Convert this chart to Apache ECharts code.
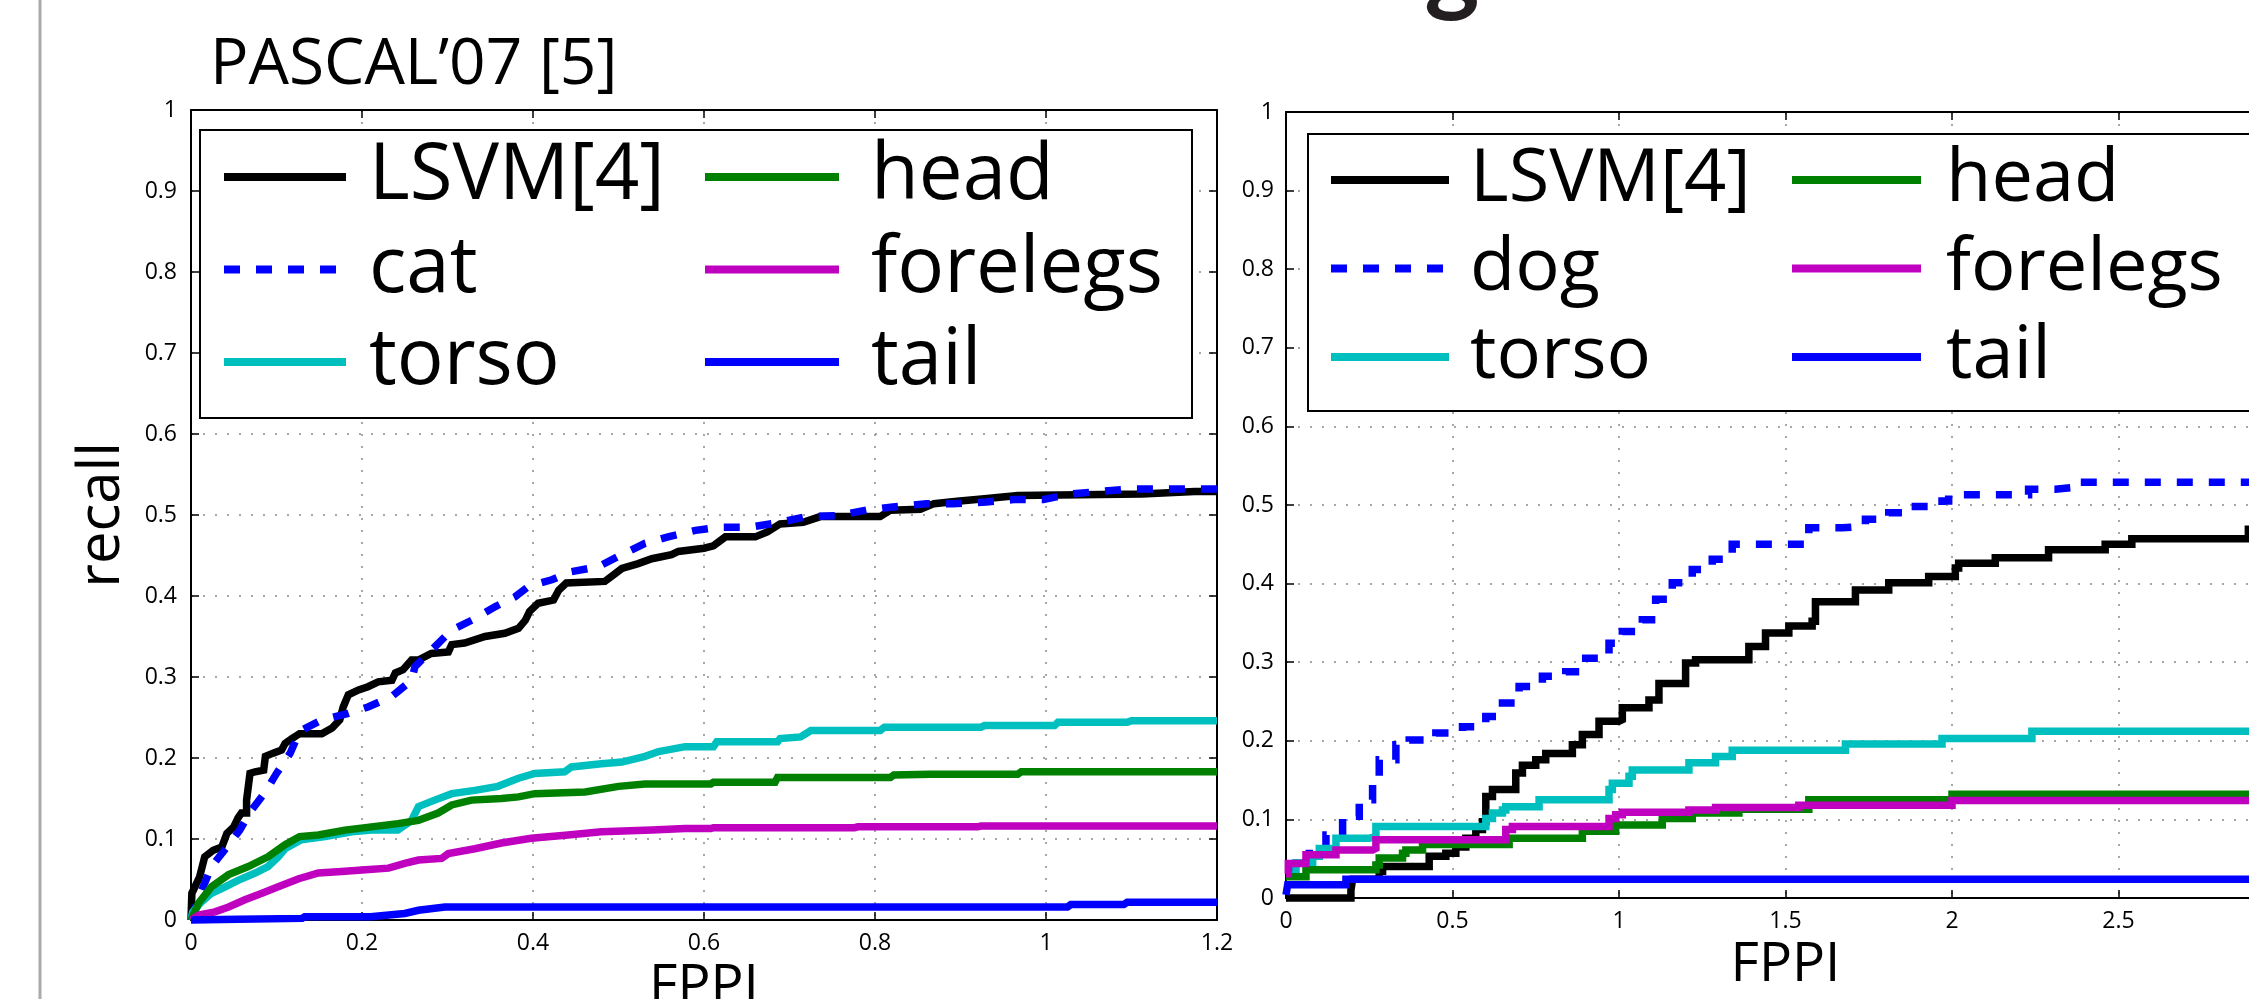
<!DOCTYPE html>
<html><head><meta charset="utf-8">
<script src="https://cdn.jsdelivr.net/npm/echarts@6/dist/echarts.min.js"></script>
<style>html,body{margin:0;padding:0;background:#fff}#c{width:2249px;height:999px}</style>
</head><body><div id="c"></div>
<script>
// ---------- data ----------
const titleText = 'PASCAL’07 [5]';
const xName = 'FPPI';
const yName = 'recall';
const legendLeftCol1 = ['LSVM[4]', 'cat', 'torso'];
const legendRightCol1 = ['LSVM[4]', 'dog', 'torso'];
const legendCol2 = ['head', 'forelegs', 'tail'];

// left panel (cat), polyline vertices [FPPI, recall]
const catLSVM = [[0,0],[0.001,0.033],[0.01,0.053],[0.016,0.078],[0.026,0.086],[0.036,0.09],[0.042,0.107],[0.05,0.115],[0.055,0.126],[0.059,0.132],[0.065,0.132],[0.065,0.148],[0.069,0.181],[0.075,0.183],[0.085,0.185],[0.087,0.202],[0.096,0.206],[0.106,0.21],[0.11,0.218],[0.118,0.224],[0.127,0.23],[0.153,0.23],[0.165,0.237],[0.174,0.247],[0.178,0.263],[0.184,0.278],[0.196,0.284],[0.207,0.288],[0.219,0.294],[0.235,0.296],[0.239,0.305],[0.248,0.309],[0.258,0.321],[0.266,0.321],[0.281,0.329],[0.301,0.331],[0.305,0.34],[0.32,0.342],[0.344,0.35],[0.367,0.354],[0.383,0.36],[0.391,0.37],[0.396,0.381],[0.406,0.391],[0.424,0.395],[0.43,0.407],[0.439,0.416],[0.484,0.418],[0.494,0.426],[0.504,0.434],[0.523,0.44],[0.539,0.446],[0.562,0.451],[0.57,0.455],[0.6,0.459],[0.611,0.462],[0.625,0.473],[0.66,0.473],[0.674,0.479],[0.689,0.489],[0.716,0.491],[0.736,0.498],[0.806,0.498],[0.818,0.506],[0.853,0.507],[0.869,0.514],[0.896,0.517],[0.928,0.52],[0.967,0.524],[1.112,0.526],[1.174,0.529],[1.2,0.529]];
const catWhole = [[0,0],[0.01,0.03],[0.024,0.066],[0.042,0.09],[0.057,0.111],[0.071,0.136],[0.087,0.158],[0.1,0.181],[0.116,0.206],[0.127,0.233],[0.153,0.247],[0.184,0.255],[0.207,0.263],[0.235,0.276],[0.258,0.296],[0.262,0.313],[0.285,0.337],[0.305,0.358],[0.332,0.372],[0.356,0.387],[0.379,0.399],[0.395,0.412],[0.422,0.42],[0.445,0.43],[0.476,0.436],[0.5,0.449],[0.531,0.465],[0.558,0.473],[0.59,0.481],[0.619,0.485],[0.654,0.485],[0.689,0.491],[0.72,0.498],[0.755,0.499],[0.79,0.506],[0.821,0.51],[0.86,0.514],[0.891,0.514],[0.93,0.516],[0.962,0.519],[0.997,0.519],[1.028,0.526],[1.063,0.529],[1.098,0.532],[1.2,0.532]];
const catTorso = [[0,0],[0.002,0.01],[0.011,0.021],[0.024,0.033],[0.04,0.041],[0.055,0.049],[0.075,0.058],[0.09,0.066],[0.102,0.078],[0.11,0.088],[0.129,0.099],[0.157,0.103],[0.188,0.109],[0.211,0.111],[0.242,0.111],[0.258,0.123],[0.266,0.14],[0.285,0.148],[0.305,0.156],[0.332,0.16],[0.359,0.165],[0.383,0.175],[0.402,0.181],[0.437,0.183],[0.445,0.189],[0.48,0.193],[0.504,0.195],[0.531,0.202],[0.547,0.208],[0.578,0.214],[0.611,0.214],[0.615,0.22],[0.686,0.22],[0.689,0.224],[0.713,0.226],[0.725,0.234],[0.806,0.234],[0.811,0.238],[0.924,0.238],[0.928,0.24],[1.01,0.24],[1.014,0.244],[1.095,0.244],[1.1,0.246],[1.2,0.246]];
const catHead = [[0,0],[0.009,0.021],[0.024,0.041],[0.044,0.056],[0.067,0.066],[0.09,0.078],[0.11,0.093],[0.127,0.103],[0.149,0.105],[0.18,0.111],[0.211,0.115],[0.242,0.119],[0.266,0.123],[0.289,0.132],[0.305,0.142],[0.328,0.148],[0.363,0.15],[0.383,0.152],[0.402,0.156],[0.461,0.158],[0.5,0.165],[0.531,0.168],[0.608,0.168],[0.611,0.17],[0.683,0.17],[0.686,0.176],[0.818,0.176],[0.822,0.179],[0.865,0.18],[0.967,0.18],[0.971,0.183],[1.2,0.183]];
const catForelegs = [[0,0],[0.009,0.006],[0.028,0.01],[0.044,0.016],[0.063,0.025],[0.083,0.033],[0.102,0.041],[0.126,0.051],[0.149,0.058],[0.176,0.06],[0.204,0.062],[0.231,0.064],[0.25,0.07],[0.266,0.074],[0.293,0.076],[0.301,0.082],[0.332,0.088],[0.363,0.095],[0.398,0.101],[0.441,0.105],[0.48,0.109],[0.539,0.111],[0.578,0.113],[0.608,0.113],[0.611,0.114],[0.776,0.114],[0.78,0.115],[0.92,0.115],[0.924,0.116],[1.2,0.116]];
const catTail = [[0,0],[0.055,0.001],[0.13,0.002],[0.133,0.004],[0.21,0.004],[0.211,0.006],[0.25,0.008],[0.266,0.012],[0.297,0.016],[1.025,0.016],[1.029,0.019],[1.091,0.019],[1.095,0.022],[1.2,0.022]];

// right panel (dog), step points [FPPI, recall reached at that FPPI]
const dogLSVM = [[0,0],[0.195,0.01],[0.2,0.024],[0.28,0.034],[0.29,0.04],[0.43,0.053],[0.48,0.057],[0.51,0.065],[0.54,0.076],[0.57,0.087],[0.59,0.097],[0.6,0.129],[0.62,0.138],[0.69,0.159],[0.71,0.169],[0.75,0.176],[0.78,0.184],[0.86,0.195],[0.89,0.208],[0.94,0.225],[1.0,0.227],[1.01,0.242],[1.09,0.252],[1.12,0.273],[1.2,0.299],[1.23,0.303],[1.39,0.32],[1.44,0.337],[1.51,0.346],[1.58,0.352],[1.59,0.377],[1.71,0.392],[1.81,0.401],[1.93,0.409],[2.01,0.42],[2.02,0.426],[2.13,0.433],[2.29,0.443],[2.46,0.45],[2.54,0.457],[2.89,0.469],[3,0.469]];
const dogWhole = [[0,0.03],[0.01,0.048],[0.07,0.065],[0.12,0.08],[0.17,0.104],[0.22,0.125],[0.26,0.146],[0.28,0.176],[0.33,0.195],[0.37,0.201],[0.45,0.21],[0.53,0.218],[0.6,0.231],[0.65,0.248],[0.7,0.269],[0.77,0.282],[0.84,0.288],[0.9,0.305],[0.97,0.324],[1.01,0.339],[1.07,0.354],[1.11,0.38],[1.16,0.401],[1.22,0.418],[1.28,0.431],[1.34,0.45],[1.57,0.471],[1.67,0.473],[1.74,0.482],[1.81,0.49],[1.89,0.498],[1.97,0.505],[1.99,0.513],[2.23,0.52],[2.31,0.522],[2.36,0.529],[3,0.529]];
const dogTorso = [[0,0.03],[0.03,0.045],[0.08,0.053],[0.1,0.063],[0.15,0.076],[0.25,0.078],[0.27,0.091],[0.6,0.101],[0.62,0.108],[0.65,0.112],[0.66,0.116],[0.76,0.125],[0.97,0.138],[0.98,0.146],[1.03,0.155],[1.04,0.163],[1.21,0.172],[1.29,0.18],[1.34,0.188],[1.68,0.196],[1.97,0.203],[2.24,0.212],[3,0.212]];
const dogHead = [[0,0.027],[0.06,0.036],[0.27,0.042],[0.28,0.051],[0.35,0.057],[0.36,0.061],[0.41,0.068],[0.67,0.076],[0.89,0.085],[0.99,0.093],[1.13,0.101],[1.22,0.108],[1.36,0.113],[1.57,0.125],[2.0,0.132],[3,0.132]];
const dogForelegs = [[0,0.031],[0.007,0.044],[0.06,0.055],[0.15,0.061],[0.26,0.063],[0.27,0.074],[0.66,0.087],[0.68,0.091],[0.97,0.101],[0.99,0.106],[1.01,0.109],[1.21,0.112],[1.29,0.115],[1.54,0.118],[2.0,0.124],[3,0.124]];
const dogTail = [[0,0.004],[0.005,0.017],[0.18,0.024],[3,0.024]];

// ---------- styling ----------
const FONT = '"Open Sans", "Noto Sans", sans-serif';
const C = {lsvm:'#000000', whole:'#0000ff', torso:'#00bfbf', head:'#008000', fore:'#bf00bf', tail:'#0000ff'};
const fmt = v => String(Math.round(v * 10) / 10);

function mainX(grid, max, interval, nameGap) {
  return {type:'value', gridIndex:grid, position:'bottom', min:0, max:max, interval:interval,
    name:xName, nameLocation:'middle', nameGap:nameGap,
    nameTextStyle:{fontSize:55, fontFamily:FONT, color:'#000'},
    axisLine:{show:true, onZero:false, lineStyle:{color:'#000', width:2}},
    axisTick:{show:true, inside:true, length:8, lineStyle:{color:'#000', width:1.5}},
    axisLabel:{show:true, margin:12, fontSize:23, fontFamily:FONT, color:'#000', formatter:fmt, showMinLabel:true, showMaxLabel:true},
    splitLine:{show:true, lineStyle:{color:'#8a8a8a', width:1.5, type:[2,10]}}};
}
function frameX(grid, max, interval) {
  return {type:'value', gridIndex:grid, position:'top', min:0, max:max, interval:interval,
    axisLine:{show:true, onZero:false, lineStyle:{color:'#000', width:2}},
    axisTick:{show:true, inside:true, length:8, lineStyle:{color:'#000', width:1.5}},
    axisLabel:{show:false}, splitLine:{show:false}};
}
function mainY(grid, withName, margin) {
  return {type:'value', gridIndex:grid, position:'left', min:0, max:1, interval:0.1,
    name: withName ? yName : '', nameLocation:'middle', nameGap:60, nameRotate:90,
    nameTextStyle:{fontSize:58, fontFamily:FONT, color:'#000'},
    axisLine:{show:true, onZero:false, lineStyle:{color:'#000', width:2}},
    axisTick:{show:true, inside:true, length:8, lineStyle:{color:'#000', width:1.5}},
    axisLabel:{show:true, margin:margin, fontSize:23, fontFamily:FONT, color:'#000', formatter:fmt, showMinLabel:true, showMaxLabel:true},
    splitLine:{show:true, lineStyle:{color:'#8a8a8a', width:1.5, type:[2,10]}}};
}
function frameY(grid) {
  return {type:'value', gridIndex:grid, position:'right', min:0, max:1, interval:0.1,
    axisLine:{show:true, onZero:false, lineStyle:{color:'#000', width:2}},
    axisTick:{show:true, inside:true, length:8, lineStyle:{color:'#000', width:1.5}},
    axisLabel:{show:false}, splitLine:{show:false}};
}
function ser(name, data, color, axis, step, dashed) {
  return {type:'line', name:name, data:data, xAxisIndex:axis, yAxisIndex:axis,
    symbol:'none', showSymbol:false, step:step, clip:false, smooth:false,
    lineStyle:{color:color, width:7.5, type: dashed ? [16,16] : 'solid', cap:'butt', join:'miter'},
    itemStyle:{color:color}, emphasis:{disabled:true}};
}
function legendCol(names, left, top, itemWidth, fontSize, textPad) {
  return {show:true, orient:'vertical', left:left, top:top, padding:0,
    itemGap:14.5, itemWidth:itemWidth, itemHeight:2, selectedMode:false,
    data:names, z:10,
    itemStyle:{opacity:0},
    lineStyle:{width:8},
    textStyle:{fontSize:fontSize, fontFamily:FONT, color:'#000', padding:[0,0,0,textPad]}};
}

const chart = echarts.init(document.getElementById('c'), null, {renderer:'canvas'});
chart.setOption({
  animation:false,
  backgroundColor:'#fff',
  title:{text:titleText, left:210, top:34, padding:0,
    textStyle:{fontSize:64, fontWeight:'normal', fontFamily:FONT, color:'#000'}},
  grid:[
    {left:191, top:110, width:1026, height:810, outerBoundsMode:'none', containLabel:false},
    {left:1286, top:112, width:999, height:786, outerBoundsMode:'none', containLabel:false}
  ],
  xAxis:[mainX(0, 1.2, 0.2, 40), frameX(0, 1.2, 0.2), mainX(1, 3, 0.5, 37), frameX(1, 3, 0.5)],
  yAxis:[mainY(0, true, 14), frameY(0), mainY(1, false, 12), frameY(1)],
  legend:[
    legendCol(legendLeftCol1, 220, 138, 122, 78, 18),
    legendCol(legendCol2, 701, 138, 134, 78, 27),
    legendCol(legendRightCol1, 1327, 143, 118, 74, 16),
    legendCol(legendCol2, 1788, 143, 129, 74, 20)
  ],
  graphic:[
    {type:'line', shape:{x1:40, y1:0, x2:40, y2:999}, style:{stroke:'#aaaaaa', lineWidth:3}, silent:true},
    {type:'rect', z:5, shape:{x:200, y:130, width:992, height:288}, style:{fill:'#fff', stroke:'#000', lineWidth:2}, silent:true},
    {type:'rect', z:5, shape:{x:1308, y:134, width:1000, height:277}, style:{fill:'#fff', stroke:'#000', lineWidth:2}, silent:true},
    {type:'text', x:1452, y:21, silent:true,
      style:{text:'g', font:'bold 105px Lato, Roboto, sans-serif', fill:'#231f20', textAlign:'center', textVerticalAlign:'bottom'}}
  ],
  series:[
    ser('LSVM[4]', catLSVM, C.lsvm, 0, false, false),
    ser('cat', catWhole, C.whole, 0, false, true),
    ser('torso', catTorso, C.torso, 0, false, false),
    ser('head', catHead, C.head, 0, false, false),
    ser('forelegs', catForelegs, C.fore, 0, false, false),
    ser('tail', catTail, C.tail, 0, false, false),
    ser('LSVM[4]', dogLSVM, C.lsvm, 2, 'end', false),
    ser('dog', dogWhole, C.whole, 2, 'end', true),
    ser('torso', dogTorso, C.torso, 2, 'end', false),
    ser('head', dogHead, C.head, 2, 'end', false),
    ser('forelegs', dogForelegs, C.fore, 2, 'end', false),
    ser('tail', dogTail, C.tail, 2, 'end', false)
  ]
});
</script></body></html>
